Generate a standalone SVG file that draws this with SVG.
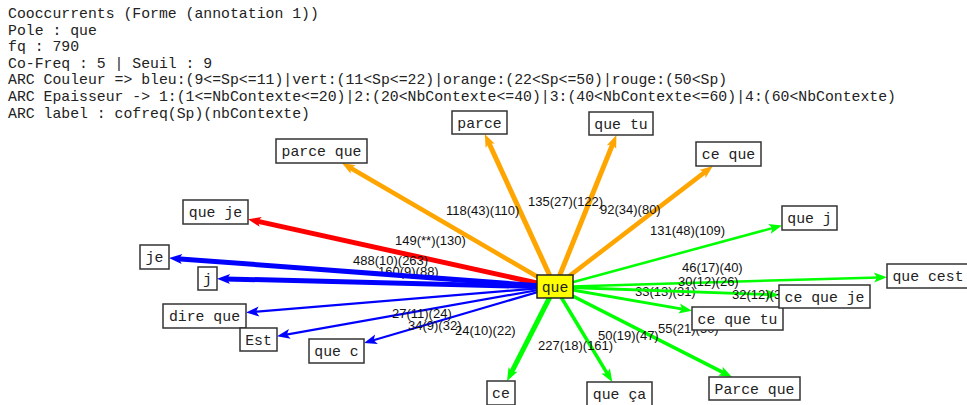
<svg xmlns="http://www.w3.org/2000/svg" width="967" height="405" viewBox="0 0 967 405">
<style>
.hdr{font-family:"Liberation Mono","Courier New",monospace;font-size:14.8px;fill:#222}
.box{fill:#fff;stroke:#333;stroke-width:1.5}
.pole{fill:#ffff00;stroke:#222;stroke-width:1.5}
.nt{font-family:"Liberation Mono","Courier New",monospace;font-size:14.8px;fill:#222;text-anchor:middle}
.lbl{font-family:"Liberation Sans",Arial,sans-serif;font-size:13px;fill:#111}
.o{stroke:#ffa500;fill:none}
.r{stroke:#ff0000;fill:none}
.b{stroke:#0000ff;fill:none}
.g{stroke:#00ff00;fill:none}
</style>
<defs>
<marker id="ao" markerUnits="userSpaceOnUse" viewBox="-10 -10 20 20" markerWidth="20" markerHeight="20" refX="0" refY="0" orient="auto"><path d="M8,0 L-5,-5 L-2,0 L-5,5 Z" fill="#ffa500"/></marker>
<marker id="ar" markerUnits="userSpaceOnUse" viewBox="-10 -10 20 20" markerWidth="20" markerHeight="20" refX="0" refY="0" orient="auto"><path d="M8,0 L-5,-5 L-2,0 L-5,5 Z" fill="#ff0000"/></marker>
<marker id="ab" markerUnits="userSpaceOnUse" viewBox="-10 -10 20 20" markerWidth="20" markerHeight="20" refX="0" refY="0" orient="auto"><path d="M8,0 L-5,-5 L-2,0 L-5,5 Z" fill="#0000ff"/></marker>
<marker id="ag" markerUnits="userSpaceOnUse" viewBox="-10 -10 20 20" markerWidth="20" markerHeight="20" refX="0" refY="0" orient="auto"><path d="M8,0 L-5,-5 L-2,0 L-5,5 Z" fill="#00ff00"/></marker>
</defs>
<rect width="967" height="405" fill="#fff"/>
<g id="header">
<text class="hdr" x="8" y="18">Cooccurrents (Forme (annotation 1))</text>
<text class="hdr" x="8" y="35">Pole : que</text>
<text class="hdr" x="8" y="51">fq : 790</text>
<text class="hdr" x="8" y="68">Co-Freq : 5 | Seuil : 9</text>
<text class="hdr" x="8" y="84">ARC Couleur =&gt; bleu:(9&lt;=Sp&lt;=11)|vert:(11&lt;Sp&lt;=22)|orange:(22&lt;Sp&lt;=50)|rouge:(50&lt;Sp)</text>
<text class="hdr" x="8" y="101">ARC Epaisseur -&gt; 1:(1&lt;=NbContexte&lt;=20)|2:(20&lt;NbContexte&lt;=40)|3:(40&lt;NbContexte&lt;=60)|4:(60&lt;NbContexte)</text>
<text class="hdr" x="8" y="118">ARC label : cofreq(Sp)(nbContexte)</text>
</g>
<g id="labels-under">
<text class="lbl" x="378" y="276">160(9)(88)</text>
<text class="lbl" x="635" y="296">33(13)(31)</text>
</g>
<g id="connectors">
<line class="o" x1="555" y1="287" x2="348.9" y2="167" stroke-width="4.5" marker-end="url(#ao)"/>
<line class="o" x1="555" y1="287" x2="488.1" y2="141.3" stroke-width="5" marker-end="url(#ao)"/>
<line class="o" x1="555" y1="287" x2="613.4" y2="142.4" stroke-width="5" marker-end="url(#ao)"/>
<line class="o" x1="555" y1="287" x2="706.5" y2="170.9" stroke-width="4.5" marker-end="url(#ao)"/>
<line class="r" x1="555" y1="287" x2="255.8" y2="220.9" stroke-width="5" marker-end="url(#ar)"/>
<line class="b" x1="555" y1="287" x2="177" y2="258.7" stroke-width="5" marker-end="url(#ab)"/>
<line class="b" x1="555" y1="287" x2="225" y2="278.9" stroke-width="5" marker-end="url(#ab)"/>
<line class="b" x1="555" y1="287" x2="254" y2="311.9" stroke-width="2.2" marker-end="url(#ab)"/>
<line class="b" x1="555" y1="287" x2="284.9" y2="334.8" stroke-width="2.2" marker-end="url(#ab)"/>
<line class="b" x1="555" y1="287" x2="371.7" y2="340.7" stroke-width="2.2" marker-end="url(#ab)"/>
<line class="g" x1="555" y1="287" x2="774.3" y2="227.6" stroke-width="2.5" marker-end="url(#ag)"/>
<line class="g" x1="555" y1="287" x2="879" y2="277.4" stroke-width="2.5" marker-end="url(#ag)"/>
<line class="g" x1="555" y1="287" x2="771" y2="294.6" stroke-width="2.8" marker-end="url(#ag)"/>
<line class="g" x1="555" y1="287" x2="684.1" y2="309.3" stroke-width="2.8" marker-end="url(#ag)"/>
<line class="g" x1="555" y1="287" x2="724.8" y2="373.4" stroke-width="3.5" marker-end="url(#ag)"/>
<line class="g" x1="555" y1="287" x2="510.7" y2="373.9" stroke-width="5" marker-end="url(#ag)"/>
<line class="g" x1="555" y1="287" x2="608.2" y2="375.1" stroke-width="3.5" marker-end="url(#ag)"/>
</g>
<g id="labels">
<text class="lbl" x="446" y="215">118(43)(110)</text>
<text class="lbl" x="528" y="206">135(27)(122)</text>
<text class="lbl" x="600" y="214">92(34)(80)</text>
<text class="lbl" x="395" y="245">149(**)(130)</text>
<text class="lbl" x="353" y="265">488(10)(263)</text>
<text class="lbl" x="392" y="318">27(11)(24)</text>
<text class="lbl" x="408" y="330">34(9)(32)</text>
<text class="lbl" x="455" y="335">24(10)(22)</text>
<text class="lbl" x="650" y="235">131(48)(109)</text>
<text class="lbl" x="682" y="272">46(17)(40)</text>
<text class="lbl" x="678" y="286">30(12)(26)</text>
<text class="lbl" x="732" y="299">32(12)(30)</text>
<text class="lbl" x="658" y="333">55(21)(50)</text>
<text class="lbl" x="598" y="340">50(19)(47)</text>
<text class="lbl" x="538" y="350">227(18)(161)</text>
</g>
<g id="n-parce-que"><rect class="box" x="276" y="139" width="91" height="24"/><text class="nt" x="321.5" y="156">parce que</text></g>
<g id="n-parce"><rect class="box" x="452" y="111" width="55" height="23"/><text class="nt" x="479.5" y="127.5">parce</text></g>
<g id="n-que-tu"><rect class="box" x="589" y="112" width="64" height="23"/><text class="nt" x="621" y="128.5">que tu</text></g>
<g id="n-ce-que"><rect class="box" x="696" y="142" width="65" height="24"/><text class="nt" x="728.5" y="159">ce que</text></g>
<g id="n-que-je"><rect class="box" x="183" y="200" width="65" height="24"/><text class="nt" x="215.5" y="217">que je</text></g>
<g id="n-je"><rect class="box" x="140" y="245" width="29" height="24"/><text class="nt" x="154.5" y="262">je</text></g>
<g id="n-j"><rect class="box" x="198" y="267" width="19" height="23"/><text class="nt" x="207.5" y="283.5">j</text></g>
<g id="n-dire-que"><rect class="box" x="163" y="304" width="83" height="24"/><text class="nt" x="204.5" y="321">dire que</text></g>
<g id="n-Est"><rect class="box" x="240" y="328" width="37" height="23"/><text class="nt" x="258.5" y="344.5">Est</text></g>
<g id="n-que-c"><rect class="box" x="309" y="339" width="55" height="24"/><text class="nt" x="336.5" y="356">que c</text></g>
<g id="n-que-j"><rect class="box" x="782" y="206" width="55" height="24"/><text class="nt" x="809.5" y="223">que j</text></g>
<g id="n-que-cest"><rect class="box" x="887" y="264" width="82" height="24"/><text class="nt" x="928" y="281">que cest</text></g>
<g id="n-ce-que-tu"><rect class="box" x="692" y="307" width="91" height="23"/><text class="nt" x="737.5" y="323.5">ce que tu</text></g>
<g id="n-ce-que-je"><rect class="box" x="779" y="285" width="91" height="23"/><text class="nt" x="824.5" y="301.5">ce que je</text></g>
<g id="n-ce"><rect class="box" x="487" y="381" width="28" height="24"/><text class="nt" x="501" y="398">ce</text></g>
<g id="n-que-ca"><rect class="box" x="587" y="382" width="65" height="24"/><text class="nt" x="619.5" y="399">que ça</text></g>
<g id="n-Parce-que"><rect class="box" x="709" y="377" width="91" height="23"/><text class="nt" x="754.5" y="393.5">Parce que</text></g>
<g id="n-que"><rect class="pole" x="537" y="275" width="36" height="23"/><text class="nt" x="555" y="291.5">que</text></g>
</svg>
